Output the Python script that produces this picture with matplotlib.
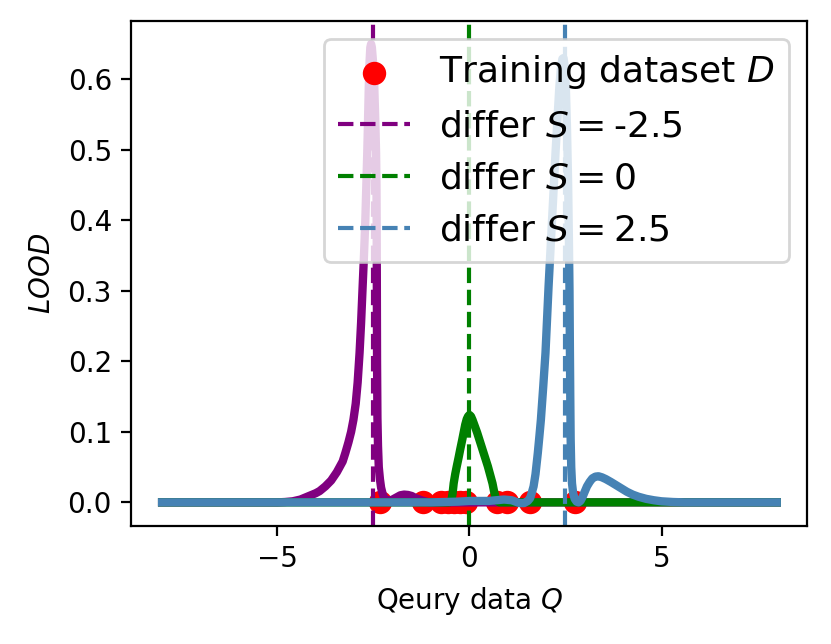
import matplotlib
matplotlib.use("Agg")
import matplotlib.pyplot as plt

# Training data points (x positions, all at LOOD = 0)
train_x = [-2.32, -1.2, -0.75, -0.55, -0.4, -0.25, -0.1, 0.72, 0.97, 1.57, 2.74]
train_y = [0.0] * len(train_x)

# Differ positions
S_values = [-2.5, 0, 2.5]
S_colors = ["purple", "green", "steelblue"]

x_ticks = [-5, 0, 5]

# LOOD curve for S = -2.5
purple_x = [-8.0, -5.0, -4.8, -4.6, -4.4, -4.2, -4.0, -3.9, -3.75, -3.6, -3.45,
            -3.3, -3.23, -3.15, -3.08, -3.02, -2.96, -2.91, -2.86, -2.82, -2.78,
            -2.745, -2.71, -2.685, -2.66, -2.64, -2.62, -2.60, -2.58, -2.56,
            -2.54, -2.51, -2.48, -2.45, -2.43, -2.42, -2.415, -2.41, -2.405,
            -2.395, -2.38, -2.36, -2.33, -2.30, -2.26, -2.22, -2.17, -2.1,
            -2.0, -1.9, -1.8, -1.7, -1.6, -1.5, -1.4, -1.3, -1.2, -1.05, 8.0]
purple_y = [0.0, 0.0, 0.0005, 0.0015, 0.004, 0.0085, 0.013, 0.016, 0.0227, 0.031, 0.043,
            0.058, 0.070, 0.085, 0.100, 0.117, 0.140, 0.170, 0.212, 0.255, 0.306,
            0.350, 0.400, 0.447, 0.495, 0.540, 0.589, 0.625, 0.645, 0.650,
            0.645, 0.625, 0.595, 0.540, 0.495, 0.450, 0.400, 0.300, 0.200,
            0.120, 0.080, 0.050, 0.033, 0.021, 0.012, 0.006, 0.003, 0.002,
            0.004, 0.007, 0.010, 0.011, 0.0105, 0.009, 0.006, 0.004, 0.002, 0.0, 0.0]

# LOOD curve for S = 0
green_x = [-8.0, -0.55, -0.5, -0.47, -0.44, -0.41, -0.37, -0.33, -0.28, -0.24,
           -0.19, -0.15, -0.11, -0.07, -0.035, 0.0, 0.04, 0.08, 0.14, 0.2, 0.27,
           0.34, 0.41, 0.48, 0.54, 0.60, 0.64, 0.68, 0.72, 0.78, 8.0]
green_y = [0.0, 0.0, 0.0005, 0.003, 0.012, 0.027, 0.040, 0.051, 0.064, 0.075,
           0.088, 0.099, 0.110, 0.118, 0.122, 0.124, 0.122, 0.117, 0.108, 0.099, 0.087,
           0.075, 0.063, 0.051, 0.039, 0.027, 0.016, 0.007, 0.002, 0.0, 0.0]

# LOOD curve for S = 2.5
blue_x = [-8.0, -1.0, -0.3, 0.0, 0.5, 0.9, 1.1, 1.3, 1.42, 1.52, 1.58, 1.62, 1.67,
          1.72, 1.78, 1.82, 1.86, 1.92, 1.98, 2.02, 2.06, 2.105, 2.15, 2.195,
          2.24, 2.29, 2.34, 2.38, 2.42, 2.45, 2.48, 2.51, 2.54, 2.57, 2.59,
          2.605, 2.615, 2.625, 2.635, 2.65, 2.67, 2.70, 2.74, 2.79, 2.84, 2.89,
          2.94, 3.0, 3.06, 3.13, 3.2, 3.28, 3.36, 3.45, 3.55, 3.68, 3.8, 3.95,
          4.1, 4.25, 4.4, 4.6, 4.8, 5.0, 5.3, 5.6, 8.0]
blue_y = [0.0, 0.0, 0.001, 0.002, 0.002, 0.004, 0.003, -0.001, -0.001, 0.002, 0.006, 0.013, 0.0227,
          0.040, 0.070, 0.093, 0.117, 0.163, 0.212, 0.259, 0.306, 0.353, 0.400, 0.447,
          0.495, 0.542, 0.589, 0.615, 0.629, 0.630, 0.618, 0.589, 0.530, 0.450, 0.370,
          0.300, 0.220, 0.150, 0.090, 0.050, 0.027, 0.013, 0.005, 0.001, 0.0, 0.002,
          0.007, 0.015, 0.0227, 0.029, 0.034, 0.0365, 0.037, 0.0355, 0.033, 0.029, 0.025, 0.020,
          0.015, 0.011, 0.008, 0.005, 0.003, 0.0015, 0.0005, 0.0, 0.0]

curves = [(purple_x, purple_y), (green_x, green_y), (blue_x, blue_y)]

fig = plt.figure(figsize=(8.31 / 2, 6.44 / 2), dpi=200)
ax = fig.add_axes([0.1581, 0.1832, 0.9717 - 0.1581, 0.9674 - 0.1832])

ax.scatter(train_x, train_y, color="red", s=55, label="Training dataset $D$")
for (cx, cy), s, c in zip(curves, S_values, S_colors):
    ax.plot(cx, cy, color=c, linewidth=3)
    ax.axvline(s, color=c, linestyle="--", linewidth=1.5, label=f"differ $S=${s}")

ax.set_xticks(x_ticks)
ax.set_xlabel("Qeury data $Q$")
ax.set_ylabel("$LOOD$")
ax.legend(loc="upper right", fontsize=13)

fig.savefig("out.png", dpi=200)
